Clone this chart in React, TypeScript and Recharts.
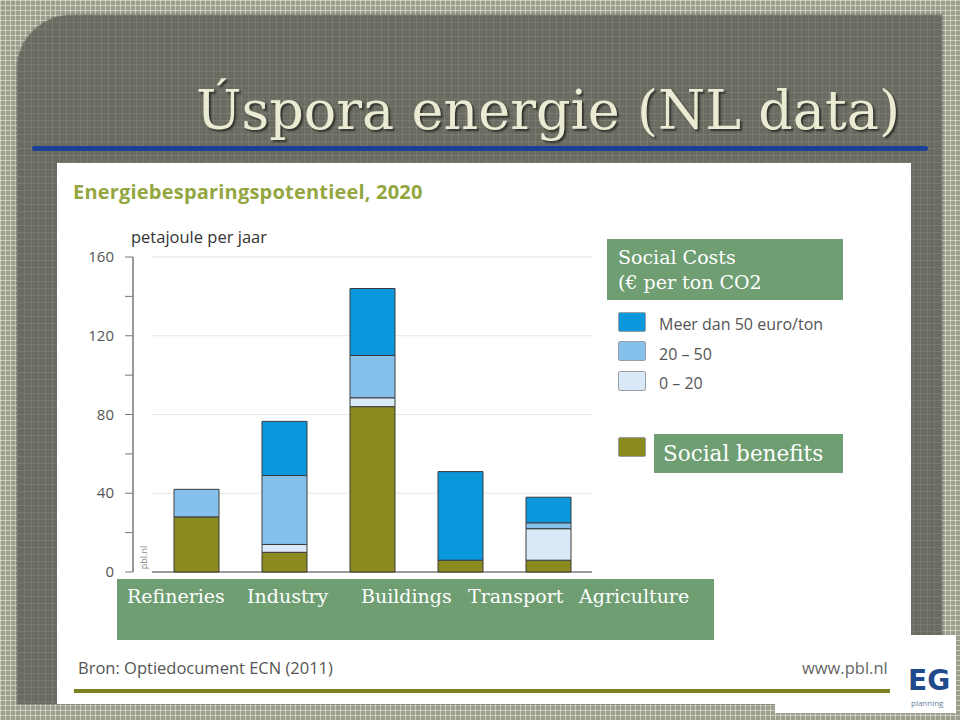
import React from "react";
import { BarChart, Bar, XAxis, YAxis, CartesianGrid } from "recharts";

// Energiebesparingspotentieel 2020, petajoule per jaar
const sectors = ["Refineries", "Industry", "Buildings", "Transport", "Agriculture"];
const socialBenefits = [28, 10, 84, 6, 6];
const cost0to20 = [0, 4, 4.5, 0, 16];
const cost20to50 = [14, 35, 21.5, 0, 3];
const costOver50 = [0, 27.5, 34, 45, 13];

const yTicks = [0, 20, 40, 60, 80, 100, 120, 140, 160];
const yLabelTicks = [0, 40, 80, 120, 160];
const gridValues = [0, 40, 80, 120, 160];

const legendLabels = ["Meer dan 50 euro/ton", "20 – 50", "0 – 20"];

// left offsets of the typed sector labels in the green box (they are not under the bars)
const labelLeft = [10, 130, 244, 351, 462];

const COLORS = {
  over50: "#0a97db",
  mid: "#86c1ed",
  low: "#d9e9f8",
  benefit: "#8a8a1e",
  box: "#6e9e72",
};

const data = sectors.map((sector, i) => ({
  sector,
  benefit: socialBenefits[i],
  low: cost0to20[i],
  mid: cost20to50[i],
  over50: costOver50[i],
}));

const CHART_W = 560;
const CHART_H = 345;
const MARGIN = { top: 17, right: 28, bottom: 13, left: 0 };
const PLOT_BOTTOM = CHART_H - MARGIN.bottom;
const PAD_LEFT = 19;

const sans = "'Open Sans', 'DejaVu Sans', sans-serif";
const serif = "'DejaVu Serif', serif";

const YTick = (props: any) => {
  const { x, y, payload } = props;
  if (!yLabelTicks.includes(payload.value)) return null;
  return (
    <text x={x} y={y} dy={5} textAnchor="end" fill="#555" fontSize={15} fontFamily={sans}>
      {payload.value}
    </text>
  );
};

const gridLine = (p: any) => {
  const base = Math.abs(p.y1 - PLOT_BOTTOM) < 1;
  return (
    <line
      key={`grid-${p.y1}`}
      x1={p.x1 + PAD_LEFT}
      x2={p.x2}
      y1={p.y1}
      y2={p.y2}
      stroke={base ? "#7a7a7a" : "#e6e6e6"}
      strokeWidth={base ? 1.5 : 1}
    />
  );
};

const Swatch = ({ color, top }: { color: string; top: number }) => (
  <div
    style={{
      position: "absolute",
      left: 618,
      top,
      width: 28,
      height: 20,
      background: color,
      border: "1px solid #9aa0a6",
      borderRadius: 2,
      boxSizing: "border-box",
    }}
  />
);

export default function App() {
  return (
    <div
      style={{
        position: "absolute",
        left: 0,
        top: 0,
        width: 960,
        height: 720,
        overflow: "hidden",
        backgroundColor: "#9d9e8e",
        backgroundImage:
          "linear-gradient(rgba(240,240,225,0.55) 1px, transparent 1px), linear-gradient(90deg, rgba(240,240,225,0.55) 1px, transparent 1px)",
        backgroundSize: "5px 5px",
      }}
    >
      {/* dark slide panel */}
      <div
        style={{
          position: "absolute",
          left: 17,
          top: 15,
          width: 925,
          height: 689,
          borderTopLeftRadius: 55,
          backgroundColor: "#6a6c61",
          backgroundImage:
            "linear-gradient(rgba(255,255,255,0.09) 1px, transparent 1px), linear-gradient(90deg, rgba(255,255,255,0.09) 1px, transparent 1px)",
          backgroundSize: "7px 7px",
          boxShadow: "0 0 3px rgba(0,0,0,0.4)",
        }}
      />

      {/* slide title */}
      <div
        style={{
          position: "absolute",
          right: 60,
          top: 81,
          height: 60,
          lineHeight: "60px",
          fontFamily: serif,
          fontSize: 54,
          color: "#ebead2",
          whiteSpace: "nowrap",
          textShadow: "2px 2px 2px rgba(0,0,0,0.55)",
        }}
      >
        Úspora energie (NL data)
      </div>
      <div
        style={{
          position: "absolute",
          left: 32,
          top: 146,
          width: 896,
          height: 5,
          borderRadius: 3,
          background: "#1c3f99",
        }}
      />

      {/* white picture */}
      <div style={{ position: "absolute", left: 57, top: 163, width: 854, height: 541, background: "#fff" }} />

      <div
        style={{
          position: "absolute",
          left: 73,
          top: 178,
          fontFamily: sans,
          fontWeight: 700,
          fontSize: 20,
          letterSpacing: 0.2,
          color: "#93a63f",
          whiteSpace: "nowrap",
        }}
      >
        Energiebesparingspotentieel, 2020
      </div>
      <div
        style={{
          position: "absolute",
          left: 131,
          top: 225,
          fontFamily: sans,
          fontSize: 16.5,
          color: "#333",
          whiteSpace: "nowrap",
        }}
      >
        petajoule per jaar
      </div>

      <div style={{ position: "absolute", left: 60, top: 240 }}>
        <BarChart width={CHART_W} height={CHART_H} data={data} margin={MARGIN} barSize={45}>
          <CartesianGrid vertical={false} horizontalValues={gridValues} horizontal={gridLine} />
          <XAxis dataKey="sector" hide padding={{ left: PAD_LEFT, right: 0 }} />
          <YAxis
            width={73}
            domain={[0, 160]}
            ticks={yTicks}
            interval={0}
            tickSize={8}
            tickMargin={11}
            axisLine={{ stroke: "#777", strokeWidth: 1.5 }}
            tickLine={{ stroke: "#777" }}
            tick={<YTick />}
          />
          <Bar dataKey="benefit" stackId="s" fill={COLORS.benefit} stroke="#3a3a3a" strokeWidth={1} isAnimationActive={false} />
          <Bar dataKey="low" stackId="s" fill={COLORS.low} stroke="#3a3a3a" strokeWidth={1} isAnimationActive={false} />
          <Bar dataKey="mid" stackId="s" fill={COLORS.mid} stroke="#3a3a3a" strokeWidth={1} isAnimationActive={false} />
          <Bar dataKey="over50" stackId="s" fill={COLORS.over50} stroke="#3a3a3a" strokeWidth={1} isAnimationActive={false} />
        </BarChart>
      </div>

      {/* pbl.nl mark along the axis */}
      <div
        style={{
          position: "absolute",
          left: 128,
          top: 551,
          width: 30,
          fontFamily: sans,
          fontSize: 9,
          color: "#888",
          transform: "rotate(-90deg)",
          textAlign: "center",
        }}
      >
        pbl.nl
      </div>

      {/* legend */}
      <Swatch color={COLORS.over50} top={312} />
      <Swatch color={COLORS.mid} top={341} />
      <Swatch color={COLORS.low} top={371} />
      <Swatch color={COLORS.benefit} top={437} />
      {legendLabels.map((label, i) => (
        <div
          key={label}
          style={{
            position: "absolute",
            left: 659,
            top: 313 + i * 29.5,
            fontFamily: sans,
            fontSize: 16,
            color: "#555",
            whiteSpace: "nowrap",
          }}
        >
          {label}
        </div>
      ))}

      {/* overlay boxes */}
      <div
        style={{
          position: "absolute",
          left: 607,
          top: 239,
          width: 236,
          height: 61,
          background: COLORS.box,
          color: "#fff",
          fontFamily: serif,
          fontSize: 19,
          lineHeight: "25px",
          padding: "6px 0 0 11px",
          boxSizing: "border-box",
          whiteSpace: "nowrap",
        }}
      >
        Social Costs
        <br />
        (€ per ton CO2
      </div>
      <div
        style={{
          position: "absolute",
          left: 654,
          top: 434,
          width: 189,
          height: 39,
          background: COLORS.box,
          color: "#fff",
          fontFamily: serif,
          fontSize: 21.5,
          lineHeight: "39px",
          paddingLeft: 9,
          boxSizing: "border-box",
          whiteSpace: "nowrap",
        }}
      >
        Social benefits
      </div>
      <div
        style={{
          position: "absolute",
          left: 117,
          top: 579,
          width: 597,
          height: 61,
          background: COLORS.box,
        }}
      >
        {sectors.map((s, i) => (
          <div
            key={s}
            style={{
              position: "absolute",
              left: labelLeft[i],
              top: 6,
              fontFamily: serif,
              fontSize: 19,
              color: "#fff",
              whiteSpace: "nowrap",
            }}
          >
            {s}
          </div>
        ))}
      </div>

      {/* source line */}
      <div
        style={{
          position: "absolute",
          left: 78,
          top: 656,
          fontFamily: sans,
          fontSize: 16.5,
          color: "#555",
          whiteSpace: "nowrap",
        }}
      >
        Bron: Optiedocument ECN (2011)
      </div>
      <div
        style={{
          position: "absolute",
          left: 802,
          top: 656,
          fontFamily: sans,
          fontSize: 16.5,
          color: "#666",
          whiteSpace: "nowrap",
        }}
      >
        www.pbl.nl
      </div>
      <div style={{ position: "absolute", left: 74, top: 689, width: 816, height: 4, background: "#7d8020" }} />

      {/* logo corner */}
      <div style={{ position: "absolute", left: 911, top: 635, width: 45, height: 78, background: "#fff" }} />
      <div style={{ position: "absolute", left: 775, top: 703, width: 181, height: 10, background: "#fff" }} />
      <div
        style={{
          position: "absolute",
          left: 908,
          top: 664,
          fontFamily: "'DejaVu Sans', sans-serif",
          fontWeight: 700,
          fontSize: 28,
          color: "#1f4a8c",
          lineHeight: "34px",
        }}
      >
        EG
      </div>
      <div
        style={{
          position: "absolute",
          left: 911,
          top: 697,
          fontFamily: sans,
          fontSize: 8,
          color: "#6b7d99",
        }}
      >
        planning
      </div>
    </div>
  );
}
